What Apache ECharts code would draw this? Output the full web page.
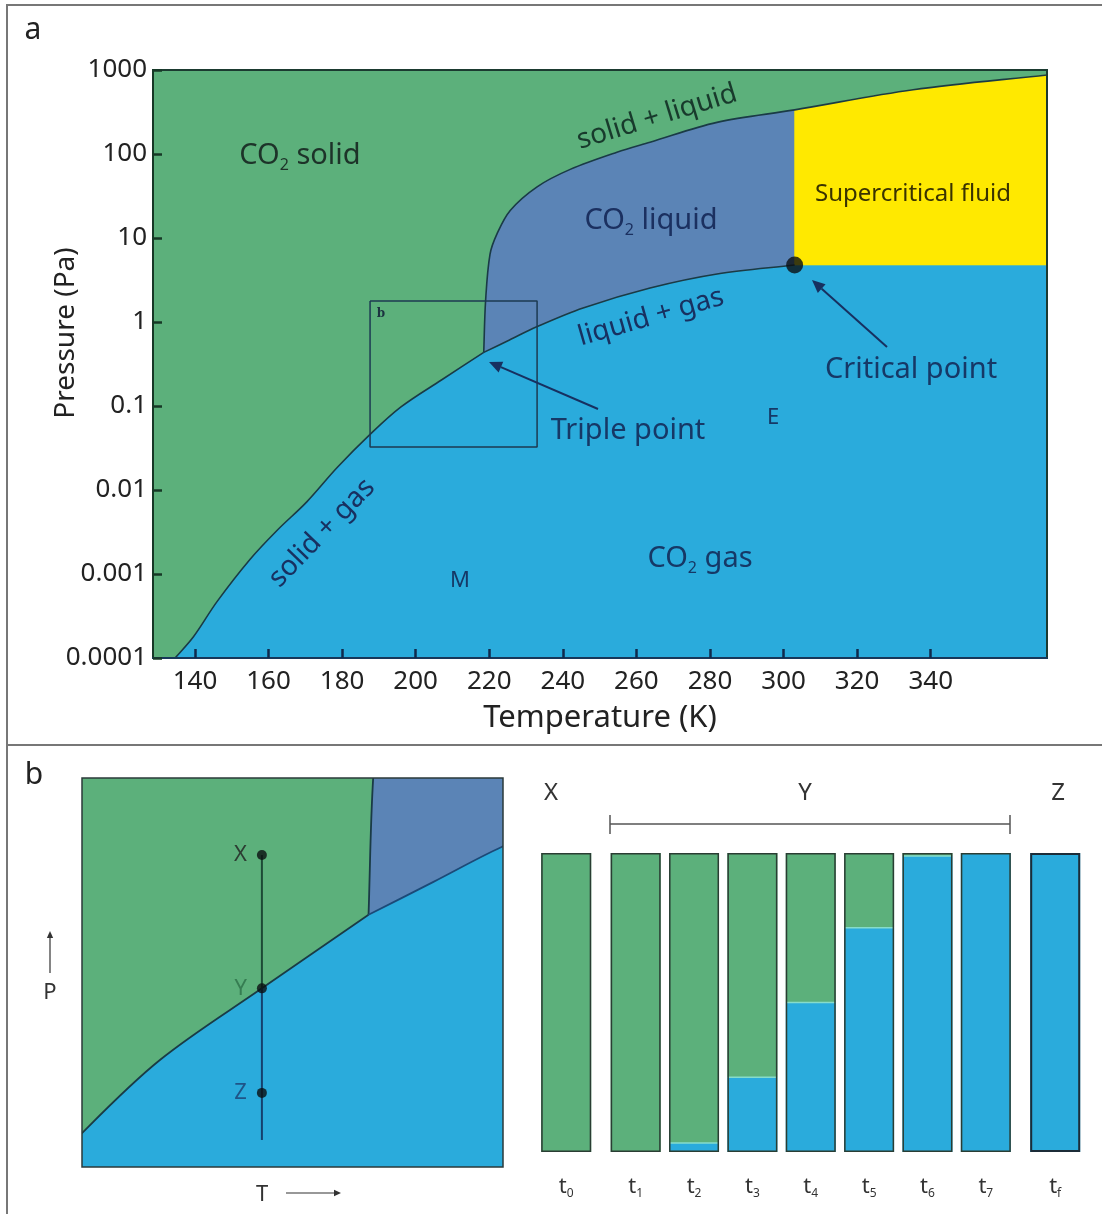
<!DOCTYPE html>
<html>
<head>
<meta charset="utf-8">
<title>CO2 phase diagram</title>
<script src="https://cdn.jsdelivr.net/npm/echarts@6/dist/echarts.min.js"></script>
<style>
  html, body { margin: 0; padding: 0; background: #ffffff; }
  #chart { width: 1102px; height: 1214px; }
</style>
</head>
<body>
<div id="chart"></div>
<script>
// ---- Phase boundaries of CO2: [temperature (K), pressure (Pa)] ----
const sublimationCurve = [
  [134.6, 0.0001], [139.6, 0.000179], [146.0, 0.000469], [155.0, 0.00150],
  [162.3, 0.00330], [170.4, 0.00723], [178.6, 0.0184], [187.6, 0.0459],
  [196.0, 0.0975], [207.0, 0.204], [218.5, 0.435]
];
const meltingCurve = [
  [218.5, 0.435], [219.0, 1.78], [220.2, 6.4], [222.1, 11.2], [225.7, 21.3],
  [233.0, 40.7], [242.0, 65.6], [254.7, 105], [263.7, 138], [281.9, 238],
  [303.0, 335], [335.2, 582], [371.6, 873]
];
const vaporCurve = [
  [218.5, 0.435], [225.5, 0.611], [232.9, 0.877], [245.5, 1.47],
  [263.7, 2.54], [281.9, 3.73], [303.0, 4.77]
];
const criticalPoint = vaporCurve[vaporCurve.length - 1];

// axis extents
const tempRange = [128.6, 371.6];
const pressureRange = [0.0001, 1000];
const tempTicks = [140, 160, 180, 200, 220, 240, 260, 280, 300, 320, 340];
const pressureTickLabels = ['0.0001', '0.001', '0.01', '0.1', '1', '10', '100', '1000'];

// enlarged window "b" around the triple point
const zoomTemp = [187.6, 233.0];
const zoomPressure = [0.0324, 1.78];

// isothermal compression path X -> Y -> Z in the enlarged window
const pathTemp = 207.0;
const pathNames = ['X', 'Y', 'Z'];
const pathPressure = [0.805, 0.204, 0.0695];
const pathEndPressure = 0.0428;

// share of gas (%) in the sample at each time step
const stepLabels = ['t0', 't1', 't2', 't3', 't4', 't5', 't6', 't7', 'tf'];
const gasShare = [0, 0, 3, 25, 50, 75, 99, 100, 100];

// ---- styling ----
const FONT = '"Noto Sans", "Open Sans", sans-serif';
const C_SOLID = '#5cb07b';
const C_GAS = '#2aabdc';
const C_LIQUID = '#5b84b6';
const C_SUPER = '#ffe900';
const C_EDGE = '#1a3b45';
const NAVY = '#163866';

// index on the melting curve where the critical temperature is reached
const meltSplit = meltingCurve.findIndex(p => p[0] >= criticalPoint[0]);

// Smooth cubic segments through pixel points (tangent from neighbours,
// handle length scaled by the segment length so steep bends do not overshoot).
function bezierSegs(px) {
  const n = px.length;
  const tan = px.map((p, i) => {
    const a = px[Math.max(0, i - 1)], b = px[Math.min(n - 1, i + 1)];
    const dx = b[0] - a[0], dy = b[1] - a[1];
    const l = Math.hypot(dx, dy) || 1;
    return [dx / l, dy / l];
  });
  const segs = [];
  for (let i = 0; i < n - 1; i++) {
    const p = px[i], q = px[i + 1];
    const L = Math.hypot(q[0] - p[0], q[1] - p[1]) * 0.34;
    segs.push({
      s: p,
      c1: [p[0] + tan[i][0] * L, p[1] + tan[i][1] * L],
      c2: [q[0] - tan[i + 1][0] * L, q[1] - tan[i + 1][1] * L],
      e: q
    });
  }
  return segs;
}
// Builds SVG path data from pieces: smooth curve stretches and straight runs.
function pathFor(pieces, api, close) {
  let d = '';
  let started = false;
  pieces.forEach(pc => {
    const px = pc.pts.map(p => api.coord(p));
    if (pc.smooth) {
      let segs = bezierSegs(px).slice(pc.from || 0, pc.to == null ? undefined : pc.to);
      if (pc.reverse) segs = segs.reverse().map(s => ({ s: s.e, c1: s.c2, c2: s.c1, e: s.s }));
      d += (started ? ' L' : 'M') + segs[0].s[0] + ' ' + segs[0].s[1];
      started = true;
      segs.forEach(s => {
        d += ' C' + s.c1[0] + ' ' + s.c1[1] + ' ' + s.c2[0] + ' ' + s.c2[1] + ' ' + s.e[0] + ' ' + s.e[1];
      });
    } else {
      px.forEach(p => {
        d += (started ? ' L' : 'M') + p[0] + ' ' + p[1];
        started = true;
      });
    }
  });
  return close ? d + ' Z' : d;
}

const gasPieces = [
  { pts: sublimationCurve, smooth: true },
  { pts: vaporCurve, smooth: true },
  { pts: [[tempRange[1], criticalPoint[1]], [tempRange[1], pressureRange[0]]] }
];
const liquidPieces = [
  { pts: meltingCurve, smooth: true, from: 0, to: meltSplit },
  { pts: vaporCurve, smooth: true, reverse: true }
];
const superPieces = [
  { pts: [criticalPoint] },
  { pts: meltingCurve, smooth: true, from: meltSplit },
  { pts: [[tempRange[1], criticalPoint[1]]] }
];
const zoomBox = [
  [zoomTemp[0], zoomPressure[1]], [zoomTemp[1], zoomPressure[1]],
  [zoomTemp[1], zoomPressure[0]], [zoomTemp[0], zoomPressure[0]],
  [zoomTemp[0], zoomPressure[1]]
];

function region(pieces, color, gi) {
  return {
    type: 'custom', xAxisIndex: gi, yAxisIndex: gi, clip: true, silent: true, z: 1,
    data: [pieces[0].pts[0]],
    renderItem: (params, api) => ({
      type: 'path',
      shape: { pathData: pathFor(pieces, api, true) },
      style: { fill: color, stroke: color, lineWidth: 0.6 }
    })
  };
}
function curve(pts, gi, color, width) {
  return {
    type: 'custom', xAxisIndex: gi, yAxisIndex: gi, clip: true, silent: true, z: 3,
    data: [pts[0]],
    renderItem: (params, api) => ({
      type: 'path',
      shape: { pathData: pathFor([{ pts: pts, smooth: true }], api, false) },
      style: { fill: 'none', stroke: color || C_EDGE, lineWidth: width || 1.6 }
    })
  };
}
function straight(pts, gi, color, width) {
  return {
    type: 'line', xAxisIndex: gi, yAxisIndex: gi, data: pts, showSymbol: false,
    silent: true, z: 3, clip: true,
    lineStyle: { color: color, width: width }
  };
}
function frame(gi, color, width) {
  return {
    type: 'custom', xAxisIndex: gi, yAxisIndex: gi, silent: true, z: 8,
    data: [[zoomTemp[0], zoomPressure[0]]],
    renderItem: (params) => {
      const cs = params.coordSys;
      return { type: 'rect', shape: { x: cs.x, y: cs.y, width: cs.width, height: cs.height },
        style: { fill: 'none', stroke: color, lineWidth: width } };
    }
  };
}

// ---- bar panel groups: t0 | t1..t7 | tf ----
const barGroups = [[0, 1], [1, 8], [8, 9]];
const barGrids = [
  { left: 537, top: 853, width: 58.4, height: 299 },
  { left: 606.5, top: 853, width: 408.5, height: 299 },
  { left: 1026, top: 853, width: 58.4, height: 299 }
];

const grids = [
  { left: 153, top: 70, width: 894, height: 588, show: true, backgroundColor: C_SOLID, borderWidth: 0 },
  { left: 82, top: 778, width: 421, height: 389, show: true, backgroundColor: C_SOLID, borderWidth: 0 }
].concat(barGrids);

const xAxes = [
  {
    type: 'value', gridIndex: 0, min: tempRange[0], max: tempRange[1], z: 9,
    axisLine: { show: true, onZero: false, lineStyle: { color: '#17375a', width: 2 } },
    axisTick: { show: true, inside: true, length: 9, customValues: tempTicks,
      lineStyle: { color: '#0f2a4c', width: 2.5 } },
    axisLabel: { customValues: tempTicks, fontSize: 26, color: '#222', margin: 11, fontFamily: FONT },
    splitLine: { show: false }
  },
  { type: 'value', gridIndex: 1, min: zoomTemp[0], max: zoomTemp[1], show: false, splitLine: { show: false } }
];
const yAxes = [
  {
    type: 'log', gridIndex: 0, logBase: 10, min: pressureRange[0], max: pressureRange[1],
    splitNumber: 7, z: 9,
    axisLine: { show: true, onZero: false, lineStyle: { color: '#163826', width: 2 } },
    axisTick: { show: true, inside: true, length: 9, lineStyle: { color: '#163826', width: 2.5 } },
    axisLabel: {
      fontSize: 26, color: '#222', margin: 6, fontFamily: FONT,
      showMinLabel: true, showMaxLabel: true,
      formatter: v => pressureTickLabels[Math.round(Math.log10(v)) + 4]
    },
    splitLine: { show: false }, minorTick: { show: false }
  },
  { type: 'log', gridIndex: 1, logBase: 10, min: zoomPressure[0], max: zoomPressure[1], show: false, splitLine: { show: false } }
];

const pathLabelColors = ['#202020', '#2d7048', '#1d3f72'];

const series = [
  // panel a
  region(gasPieces, C_GAS, 0),
  region(liquidPieces, C_LIQUID, 0),
  region(superPieces, C_SUPER, 0),
  curve(sublimationCurve, 0),
  curve(meltingCurve, 0),
  curve(vaporCurve, 0),
  straight(zoomBox, 0, '#1c3a52', 1.5),
  {
    type: 'scatter', xAxisIndex: 0, yAxisIndex: 0, data: [criticalPoint], z: 6,
    symbolSize: 17, itemStyle: { color: '#0b0f12' }, silent: true
  },
  frame(0, '#1b3a30', 2),
  // panel b, enlarged window
  region(gasPieces, C_GAS, 1),
  region(liquidPieces, C_LIQUID, 1),
  curve(sublimationCurve, 1, C_EDGE, 1.8),
  curve(meltingCurve, 1, C_EDGE, 1.8),
  curve(vaporCurve, 1, '#1b4a78', 1.8),
  straight([[pathTemp, pathPressure[0]], [pathTemp, pathPressure[1]]], 1, '#1d4a36', 2),
  straight([[pathTemp, pathPressure[1]], [pathTemp, pathEndPressure]], 1, '#15406e', 2),
  {
    type: 'scatter', xAxisIndex: 1, yAxisIndex: 1, z: 6, silent: true, symbolSize: 10,
    itemStyle: { color: '#0b0f12' },
    data: pathNames.map((n, i) => ({
      name: n, value: [pathTemp, pathPressure[i]], label: { color: pathLabelColors[i] }
    })),
    label: {
      show: true, position: 'left', distance: 10, formatter: '{b}', fontSize: 22, fontFamily: FONT
    }
  },
  frame(1, '#2b3a3a', 1.5)
];

barGroups.forEach((g, k) => {
  const gi = k + 2;
  const cats = stepLabels.slice(g[0], g[1]);
  const gas = gasShare.slice(g[0], g[1]);
  xAxes.push({
    type: 'category', gridIndex: gi, data: cats,
    axisLine: { show: false }, axisTick: { show: false },
    axisLabel: {
      margin: 22, interval: 0,
      formatter: v => '{t|t}{s|' + v.slice(1) + '}',
      rich: {
        t: { fontSize: 22, color: '#333', fontFamily: FONT },
        s: { fontSize: 12, color: '#333', fontFamily: FONT, padding: [14, 0, 0, 0] }
      }
    }
  });
  yAxes.push({ type: 'value', gridIndex: gi, min: 0, max: 100, show: false, splitLine: { show: false } });
  series.push(
    { type: 'bar', xAxisIndex: gi, yAxisIndex: gi, stack: 'phase' + k, barWidth: 50, silent: true,
      data: gas, itemStyle: { color: C_GAS } },
    { type: 'bar', xAxisIndex: gi, yAxisIndex: gi, stack: 'phase' + k, barWidth: 50, silent: true,
      data: gas.map(v => 100 - v), itemStyle: { color: C_SOLID } },
    { type: 'bar', xAxisIndex: gi, yAxisIndex: gi, barWidth: 50, barGap: '-100%', silent: true, z: 4,
      data: gas.map(() => 100),
      itemStyle: { color: 'rgba(0,0,0,0)', borderColor: k === 2 ? '#1c2c38' : '#2a3d33', borderWidth: k === 2 ? 2 : 1.5 } },
    // thin light rim where the solid meets the gas
    { type: 'custom', xAxisIndex: gi, yAxisIndex: gi, silent: true, z: 3,
      data: gas.map((v, i) => [i, v]),
      renderItem: (params, api) => {
        const v = api.value(1);
        if (v <= 0 || v >= 100) return null;
        const c = api.coord([api.value(0), v]);
        return { type: 'line', shape: { x1: c[0] - 24, y1: c[1], x2: c[0] + 24, y2: c[1] },
          style: { stroke: '#86dccb', lineWidth: 1.5 } };
      } }
  );
});

// ---- annotations ----
function txt(x, y, text, size, color, extra) {
  extra = extra || {};
  return {
    type: 'text', x: x, y: y, rotation: extra.rot || 0, z: 50, silent: true,
    style: {
      text: text, fill: color, fontSize: size, fontFamily: extra.family || FONT,
      fontWeight: extra.weight || 'normal',
      textAlign: extra.align || 'center', textVerticalAlign: 'middle', rich: extra.rich
    }
  };
}
function subRich(size, color) {
  return {
    a: { fontSize: size, fill: color, fontFamily: FONT },
    s: { fontSize: Math.round(size * 0.55), fill: color, fontFamily: FONT, padding: [Math.round(size * 0.62), 0, 0, 0] }
  };
}
function arrow(x1, y1, x2, y2, color, width, head) {
  const a = Math.atan2(y2 - y1, x2 - x1);
  const L = head, W = head * 0.45;
  const bx = x2 - L * Math.cos(a), by = y2 - L * Math.sin(a);
  return [
    { type: 'line', z: 50, silent: true, shape: { x1: x1, y1: y1, x2: bx, y2: by },
      style: { stroke: color, lineWidth: width } },
    { type: 'polygon', z: 50, silent: true,
      shape: { points: [[x2, y2],
        [bx + W * Math.sin(a), by - W * Math.cos(a)],
        [bx - W * Math.sin(a), by + W * Math.cos(a)]] },
      style: { fill: color } }
  ];
}
const deg = Math.PI / 180;

const graphics = [
  // panel frames
  { type: 'rect', z: 0, silent: true, shape: { x: 7, y: 5, width: 1100, height: 1215 },
    style: { fill: 'none', stroke: '#777', lineWidth: 2 } },
  { type: 'line', z: 0, silent: true, shape: { x1: 7, y1: 745, x2: 1102, y2: 745 },
    style: { stroke: '#777', lineWidth: 2 } },
  txt(33, 30, 'a', 30, '#222'),
  txt(34, 775, 'b', 30, '#222'),
  // axis titles
  txt(66, 333, 'Pressure (Pa)', 28, '#222', { rot: 90 * deg }),
  txt(600, 718, 'Temperature (K)', 31, '#222'),
  // region and boundary names
  txt(300, 156, '{a|CO}{s|2}{a| solid}', 29, '#1d3329', { rich: subRich(29, '#1d3329') }),
  txt(657, 117, 'solid + liquid', 28, '#183a2c', { rot: 17 * deg }),
  txt(651, 221, '{a|CO}{s|2}{a| liquid}', 29, '#1b3060', { rich: subRich(29, '#1b3060') }),
  txt(913, 194, 'Supercritical fluid', 24, '#3a3300'),
  txt(651, 317, 'liquid + gas', 28, '#183060', { rot: 16 * deg }),
  txt(911, 370, 'Critical point', 29, NAVY),
  txt(628, 431, 'Triple point', 29, NAVY),
  txt(773, 418, 'E', 22, NAVY),
  txt(460, 581, 'M', 22, NAVY),
  txt(700, 559, '{a|CO}{s|2}{a| gas}', 29, NAVY, { rich: subRich(29, NAVY) }),
  txt(322, 533, 'solid + gas', 28, '#183060', { rot: 46 * deg }),
  txt(381, 314, 'b', 12, '#1c3340', { family: '"DejaVu Serif", serif', weight: 'bold' })
]
  .concat(arrow(598, 409, 489, 362, '#173060', 2, 13))
  .concat(arrow(887, 347, 812, 280, '#173060', 2, 13))
  // panel b: axis hints for the enlarged window
  .concat(arrow(50, 973, 50, 931, '#333', 1.2, 7))
  .concat([txt(50, 993, 'P', 22, '#333'), txt(262, 1195, 'T', 22, '#333')])
  .concat(arrow(286, 1193, 341, 1193, '#333', 1.2, 7))
  // time series headers
  .concat([
    txt(551, 793, 'X', 24, '#333'),
    txt(805, 793, 'Y', 24, '#333'),
    txt(1058, 793, 'Z', 24, '#333'),
    { type: 'line', z: 50, silent: true, shape: { x1: 610, y1: 824, x2: 1010, y2: 824 }, style: { stroke: '#555', lineWidth: 1.5 } },
    { type: 'line', z: 50, silent: true, shape: { x1: 610, y1: 815, x2: 610, y2: 834 }, style: { stroke: '#555', lineWidth: 1.5 } },
    { type: 'line', z: 50, silent: true, shape: { x1: 1010, y1: 815, x2: 1010, y2: 834 }, style: { stroke: '#555', lineWidth: 1.5 } }
  ]);

const chart = echarts.init(document.getElementById('chart'), null, { renderer: 'canvas' });
chart.setOption({
  animation: false,
  backgroundColor: '#ffffff',
  textStyle: { fontFamily: FONT },
  grid: grids,
  xAxis: xAxes,
  yAxis: yAxes,
  series: series,
  graphic: { elements: graphics }
});
</script>
</body>
</html>
